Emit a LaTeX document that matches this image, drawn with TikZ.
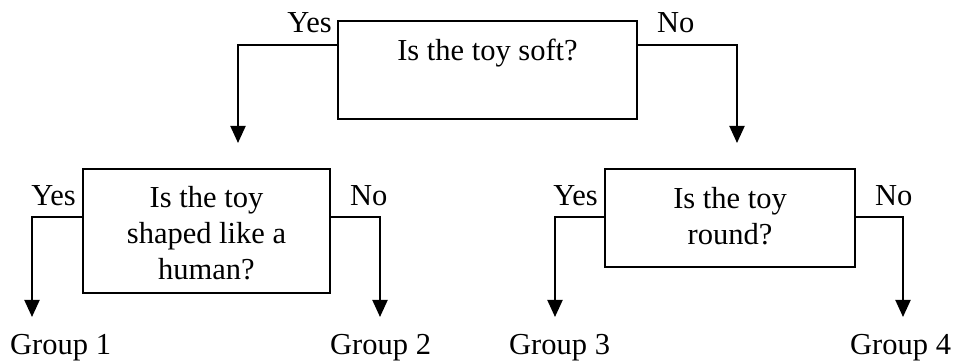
\documentclass[tikz,border=0pt]{standalone}
\usepackage{fontspec}
\setmainfont{Liberation Serif}
\usetikzlibrary{arrows.meta}
\begin{document}
\begin{tikzpicture}[x=1pt,y=1pt,
  qbox/.style={draw,line width=2pt,rectangle,inner sep=0pt},
  qtext/.style={anchor=base,align=center,inner sep=0pt,font=\fontsize{30.5}{36}\selectfont},
  lbl/.style={inner sep=0pt,font=\fontsize{30.5}{36}\selectfont},
  arr/.style={line width=2pt,-{Triangle[width=15pt,length=17pt]}}]
\useasboundingbox (0,0) rectangle (956,363);
% boxes
\node[qbox,minimum width=299pt,minimum height=98pt] (top) at (487.5,293) {};
\node[qbox,minimum width=247pt,minimum height=124pt] (left) at (206.5,132) {};
\node[qbox,minimum width=250pt,minimum height=98pt] (right) at (730,145) {};
% texts (anchored at the baseline of their last line)
\node[qtext] (ttop) at (487.5,302) {Is the toy soft?};
\node[qtext] (tleft) at (206.5,83) {Is the toy\\shaped like a\\human?};
\node[qtext] (tright) at (730,118) {Is the toy\\round?};
% arrow ends
\coordinate (ta) at (238,220);
\coordinate (tb) at (737,220);
\coordinate (g1a) at (32,46);
\coordinate (g2a) at (380,46);
\coordinate (g3a) at (555,46);
\coordinate (g4a) at (903,46);
% connectors
\draw[arr] ([yshift=-25pt]top.north west) -| (ta);
\draw[arr] ([yshift=-25pt]top.north east) -| (tb);
\draw[arr] ([yshift=-49pt]left.north west) -| (g1a);
\draw[arr] ([yshift=-49pt]left.north east) -| (g2a);
\draw[arr] ([yshift=-49pt]right.north west) -| (g3a);
\draw[arr] ([yshift=-49pt]right.north east) -| (g4a);
% yes/no labels
\node[lbl,anchor=base east] (y0) at (332,330) {Yes};
\node[lbl,anchor=base west] (n0) at (657,330) {No};
\node[lbl,anchor=base east] (y1) at (76,157) {Yes};
\node[lbl,anchor=base west] (n1) at (350,157) {No};
\node[lbl,anchor=base east] (y2) at (598,157) {Yes};
\node[lbl,anchor=base west] (n2) at (875,157) {No};
% groups
\node[lbl,anchor=base west] (g1) at (10,8) {Group 1};
\node[lbl,anchor=base west] (g2) at (330,8) {Group 2};
\node[lbl,anchor=base west] (g3) at (509,8) {Group 3};
\node[lbl,anchor=base west] (g4) at (850,8) {Group 4};
\end{tikzpicture}
\end{document}
